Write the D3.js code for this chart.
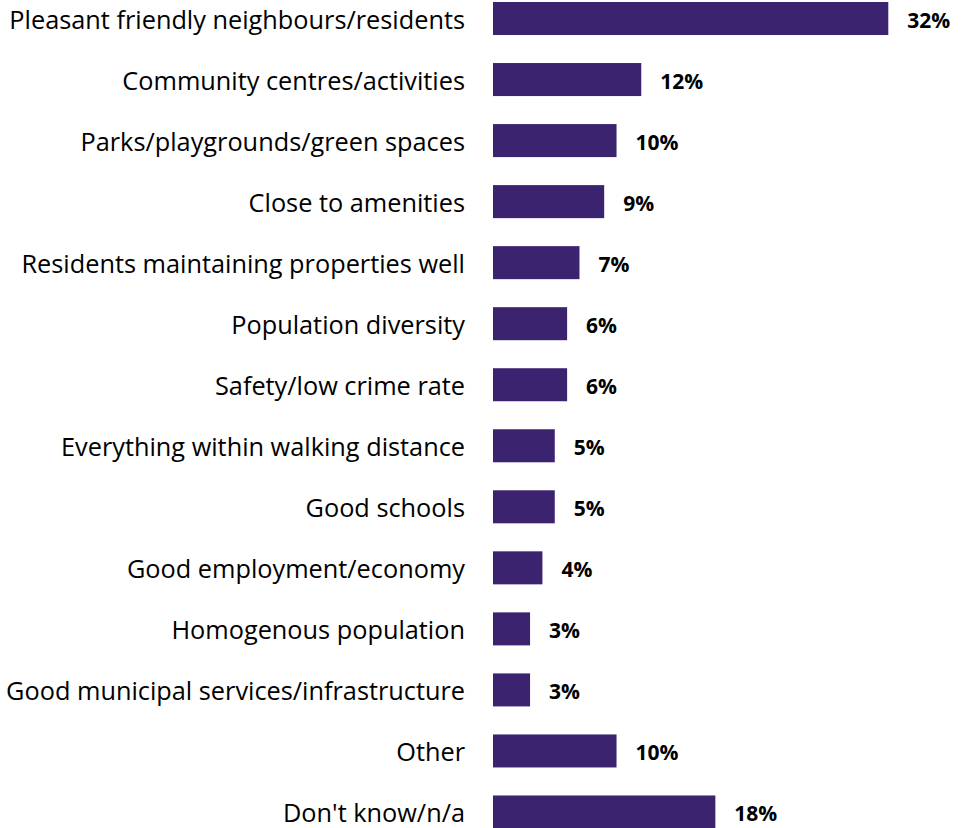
<!DOCTYPE html>
<html><head><meta charset="utf-8">
<script src="https://cdn.jsdelivr.net/npm/d3@7"></script>
<style>body{margin:0;background:#fff}svg{display:block}</style>
</head><body>
<script>
const categories = ["Pleasant friendly neighbours/residents","Community centres/activities","Parks/playgrounds/green spaces","Close to amenities","Residents maintaining properties well","Population diversity","Safety/low crime rate","Everything within walking distance","Good schools","Good employment/economy","Homogenous population","Good municipal services/infrastructure","Other","Don't know/n/a"];
const values = [32,12,10,9,7,6,6,5,5,4,3,3,10,18];
const valueLabels = ["32%","12%","10%","9%","7%","6%","6%","5%","5%","4%","3%","3%","10%","18%"];

const W = 961, H = 828;
const svg = d3.select("body").append("svg").attr("width", W).attr("height", H);
const x = d3.scaleLinear().domain([0, 32]).range([493, 888.3]);
const y = d3.scaleBand().domain(categories).range([2, 828.5]).paddingInner(0.459).paddingOuter(0);
const color = "#3c2370";
const data = categories.map((c, i) => ({c, v: values[i], l: valueLabels[i]}));

svg.selectAll("rect.bar").data(data).join("rect").attr("class","bar")
  .attr("x", x(0)).attr("y", d => y(d.c)).attr("width", d => x(d.v) - x(0))
  .attr("height", y.bandwidth()).attr("fill", color);

svg.selectAll("text.cat").data(data).join("text").attr("class","cat")
  .attr("x", 465).attr("y", d => y(d.c) + y.bandwidth()/2 + 10)
  .attr("text-anchor","end").attr("font-family","'Open Sans', sans-serif")
  .attr("font-size", 25.3).attr("fill","#000").text(d => d.c);

svg.selectAll("text.val").data(data).join("text").attr("class","val")
  .attr("x", d => x(d.v) + 19).attr("y", d => y(d.c) + y.bandwidth()/2 + 9)
  .attr("font-family","'Open Sans', sans-serif").attr("font-weight","bold")
  .attr("font-size", 21).attr("fill","#000").text(d => d.l);
</script>
</body></html>
